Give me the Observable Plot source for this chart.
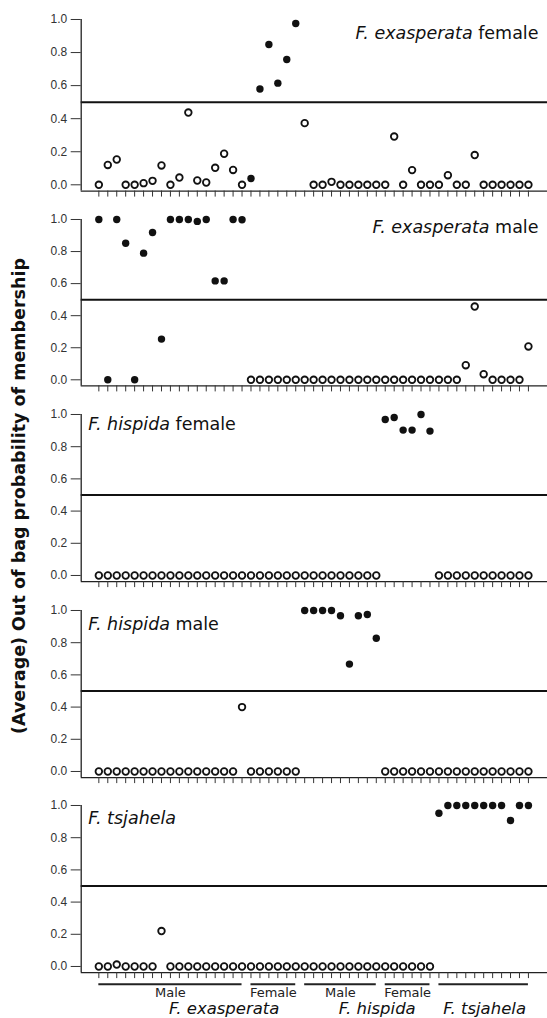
<!DOCTYPE html>
<html><head><meta charset="utf-8">
<script src="https://cdn.jsdelivr.net/npm/d3@7"></script>
<script src="https://cdn.jsdelivr.net/npm/@observablehq/plot@0.6"></script>
<style>
body{margin:0;background:#fff;}
#chart{position:relative;width:547px;height:1018px;overflow:hidden;background:#fff;}
#chart svg{position:absolute;left:0;overflow:visible;background:transparent;}
#ytitle{position:absolute;left:19px;top:496px;transform:translate(-50%,-50%) rotate(-90deg);font:bold 17.5px "DejaVu Sans";white-space:nowrap;color:#111;}
</style></head><body>
<div id="chart"><div id="ytitle">(Average) Out of bag probability of membership</div></div>
<script>
// ---- data ----
const sampleIndex = d3.range(49);
const sampleClass = [
  "exaM","exaM","exaM","exaM","exaM","exaM","exaM","exaM","exaM","exaM","exaM","exaM","exaM","exaM","exaM","exaM","exaM",
  "exaF","exaF","exaF","exaF","exaF","exaF",
  "hisM","hisM","hisM","hisM","hisM","hisM","hisM","hisM","hisM",
  "hisF","hisF","hisF","hisF","hisF","hisF",
  "tsj","tsj","tsj","tsj","tsj","tsj","tsj","tsj","tsj","tsj","tsj"
];
const panelKeys = ["exaF","exaM","hisF","hisM","tsj"];
const panelSpecies = ["F. exasperata","F. exasperata","F. hispida","F. hispida","F. tsjahela"];
const panelSex = ["female","male","female","male",""];

const probExaFemale = [0,0.12,0.153,0,0,0.01,0.024,0.117,0,0.044,0.437,0.026,0.014,0.103,0.188,0.09,0,0.038,0.58,0.849,0.615,0.758,0.976,0.373,0,0,0.018,0,0,0,0,0,0,0.292,0,0.089,0,0,0,0.058,0,0,0.18,0,0,0,0,0,0];
const probExaMale = [1,0,1,0.852,0,0.79,0.919,0.254,1,1,1,0.988,1,0.617,0.617,1,0.998,0,0,0,0,0,0,0,0,0,0,0,0,0,0,0,0,0,0,0,0,0,0,0,0,0.091,0.457,0.035,0,0,0,0,0.208];
const probHisFemale = [0,0,0,0,0,0,0,0,0,0,0,0,0,0,0,0,0,0,0,0,0,0,0,0,0,0,0,0,0,0,0,0,0.969,0.981,0.903,0.903,1,0.897,0,0,0,0,0,0,0,0,0,0,0];
const probHisMale = [0,0,0,0,0,0,0,0,0,0,0,0,0,0,0,0,0.40,0,0,0,0,0,0,1,1,1,1,0.967,0.667,0.967,0.975,0.828,0,0,0,0,0,0,0,0,0,0,0,0,0,0,0,0,0];
const probTsjahela = [0,0,0.012,0,0,0,0,0.22,0,0,0,0,0,0,0,0,0,0,0,0,0,0,0,0,0,0,0,0,0,0,0,0,0,0,0,0,0,0,0.952,1,1,1,1,1,1,1,0.907,1,1];
const panelValues = [probExaFemale, probExaMale, probHisFemale, probHisMale, probTsjahela];

const yTicks = [0,0.2,0.4,0.6,0.8,1];
const threshold = 0.5;

const groupLabels = ["Male","Female","Male","Female",""];
const groupStart = [0,17,23,32,38];
const groupEnd = [16,22,31,37,48];
const speciesLabels = ["F. exasperata","F. hispida","F. tsjahela"];
const speciesAt = [14, 31.1, 43.1];

// ---- layout (pixels) ----
const W = 547;
const frameTop = [19, 219, 414, 609.7, 805.3];
const frameBottom = [190.6, 385.4, 581.1, 776.8, 972.4];
const labelDy = [19.5, 14, 15.5, 20, 18.5];
const xDomain = [-1.97, 50.13];
const yMin = -0.038;
const MT = 20;

const chart = document.getElementById("chart");

panelKeys.forEach((key, p) => {
  const vals = panelValues[p];
  const pts = sampleIndex.map(i => ({i, v: vals[i], member: sampleClass[i] === key}));
  const right = p < 2;
  const label = panelSex[p] ? panelSpecies[p] + " " + panelSex[p] : panelSpecies[p];
  const last = p === panelKeys.length - 1;
  const MB = last ? 50 : 10;
  const marks = [
    Plot.ruleY([threshold], {stroke: "#111", strokeWidth: 2}),
    Plot.ruleX([xDomain[0]], {y1: yMin, y2: 1, stroke: "#222", strokeWidth: 1.3}),
    Plot.ruleY([yMin], {stroke: "#222", strokeWidth: 1.3}),
    Plot.axisY({ticks: yTicks, tickFormat: d3.format(".1f"), tickSize: 10, tickPadding: 4,
      fontSize: 12, fontFamily: "Liberation Sans, Arial, sans-serif", color: "#333", label: null}),
    Plot.axisX({ticks: sampleIndex, tickSize: 6, tickFormat: () => "", color: "#333", label: null}),
    Plot.dot(pts.filter(d => !d.member), {x: "i", y: "v", r: 3.3, fill: "white", stroke: "#111", strokeWidth: 1.8}),
    Plot.dot(pts.filter(d => d.member), {x: "i", y: "v", r: 3.7, fill: "#111", stroke: "none"}),
    Plot.text([label], {frameAnchor: right ? "top-right" : "top-left", dx: right ? -9 : 7, dy: labelDy[p],
      lineAnchor: "bottom", fontSize: 17.5, fontFamily: "DejaVu Sans", fill: "#111"})
  ];
  if (last) {
    const groups = groupLabels.map((g, k) => ({g, s: groupStart[k], e: groupEnd[k]}));
    const species = speciesLabels.map((s, k) => ({s, x: speciesAt[k]}));
    marks.push(
      Plot.ruleY(groups, {x1: "s", x2: "e", y: yMin, dy: 11.6, stroke: "#222", strokeWidth: 2}),
      Plot.text(groups.filter(d => d.g), {x: d => (d.s + d.e) / 2, y: yMin, dy: 20.6, text: "g",
        lineAnchor: "middle", fontSize: 13, fontFamily: "DejaVu Sans", fill: "#222"}),
      Plot.text(species, {x: "x", y: yMin, dy: 41, text: "s", lineAnchor: "bottom", fontSize: 16.5,
        fontStyle: "italic", fontFamily: "DejaVu Sans", fill: "#111"})
    );
  }
  const h = MT + (frameBottom[p] - frameTop[p]) + MB;
  const svg = Plot.plot({
    width: W, height: h,
    marginLeft: 80.7, marginRight: 0, marginTop: MT, marginBottom: MB,
    x: {domain: xDomain, range: [80.7, W]},
    y: {domain: [yMin, 1]},
    style: {background: "transparent", overflow: "visible"},
    marks
  });
  svg.style.top = (frameTop[p] - MT) + "px";
  // italicise the species part of the panel label
  d3.select(svg).selectAll("text").filter(function() { return this.textContent === label; })
    .each(function() {
      const t = d3.select(this);
      t.text(null);
      t.append("tspan").attr("font-style", "italic").text(panelSpecies[p]);
      if (panelSex[p]) t.append("tspan").text(" " + panelSex[p]);
    });
  chart.appendChild(svg);
});
</script>
</body></html>
